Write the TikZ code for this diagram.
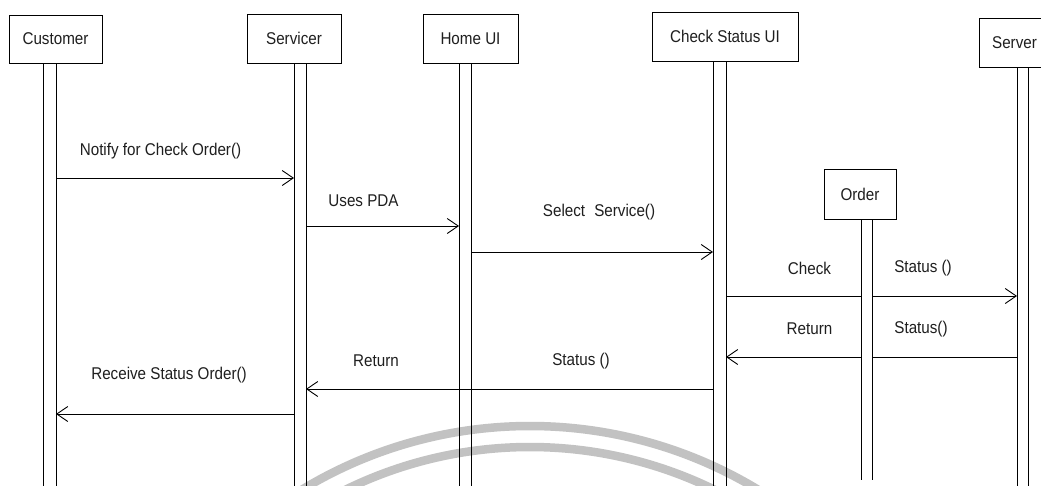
\documentclass[tikz,border=0pt]{standalone}
\usepackage{graphicx}
\usepackage{fontspec}
\setmainfont{Liberation Sans}
\usetikzlibrary{arrows.meta}
\newcommand{\tallt}[1]{\scalebox{1}[1.12]{#1}}
\begin{document}
\begin{tikzpicture}[x=1pt,y=-1pt,
  every node/.style={font=\fontsize{15.2}{18}\selectfont, text=black!88},
  objbox/.style={draw, line width=0.9pt, rectangle, inner sep=0pt, outer sep=0pt, fill=white},
  lifebar/.style={rectangle, inner sep=0pt, outer sep=0pt, minimum width=#1, anchor=north},
  barline/.style={line width=0.9pt},
  msg/.style={line width=0.9pt, -{Straight Barb[length=11pt,width=15pt,line width=0.9pt]}},
  plainmsg/.style={line width=0.9pt},
  lbl/.style={inner sep=0pt},
  wm/.style={draw=black!24, line width=8.5pt}
]
\useasboundingbox (0,0) rectangle (1041,485);
\fill[white] (0,0) rectangle (1041,485);
\begin{scope}
\clip (0,0) rectangle (1041,485);

% watermark arcs
\draw[wm] ([shift={(-128:440)}]530,866) arc[start angle=-128, end angle=-52, radius=440];
\draw[wm] ([shift={(-128:419)}]530,866) arc[start angle=-128, end angle=-52, radius=419];

% object boxes
\node[objbox, minimum width=93pt, minimum height=48pt] (cust) at (55.5,39) {\tallt{Customer}};
\node[objbox, minimum width=94pt, minimum height=49pt] (serv) at (294,38.5) {\tallt{Servicer}};
\node[objbox, minimum width=95pt, minimum height=49pt] (home) at (470.5,38.5) {\tallt{Home UI}};
\node[objbox, minimum width=146pt, minimum height=49pt] (chk) at (725,36.5) {\tallt{Check Status UI}};
\node[objbox, minimum width=71pt, minimum height=49pt] (srv) at (1014.5,42.5) {\tallt{Server}};
\node[objbox, minimum width=72pt, minimum height=50pt] (ord) at (860,194) {\tallt{Order}};

% lifeline bars
\node[lifebar=13pt, minimum height=440pt] (custbar) at (cust.south -| 49.5,0) {};
\node[lifebar=12pt, minimum height=440pt] (servbar) at (serv.south -| 300,0) {};
\node[lifebar=12pt, minimum height=440pt] (homebar) at (home.south -| 465,0) {};
\node[lifebar=13pt, minimum height=440pt] (chkbar) at (chk.south -| 719.5,0) {};
\node[lifebar=11pt, minimum height=440pt] (srvbar) at (srv.south -| 1022.5,0) {};
\node[lifebar=11pt, minimum height=261pt] (ordbar) at (ord.south -| 866.5,0) {};

\foreach \b in {custbar,servbar,homebar,chkbar,srvbar,ordbar}
  \draw[barline] (\b.north west) -- (\b.south west) (\b.north east) -- (\b.south east);

% message levels
\coordinate (y1) at (0,178);
\coordinate (y2) at (0,226);
\coordinate (y3) at (0,252);
\coordinate (y4) at (0,296);
\coordinate (y5) at (0,357);
\coordinate (y6) at (0,389);
\coordinate (y7) at (0,414);

% messages
\draw[msg] (custbar.east |- y1) -- (servbar.west |- y1);
\draw[msg] (servbar.east |- y2) -- (homebar.west |- y2);
\draw[msg] (homebar.east |- y3) -- (chkbar.west |- y3);
\draw[plainmsg] (chkbar.east |- y4) -- (ordbar.west |- y4);
\draw[msg] (ordbar.east |- y4) -- (srvbar.west |- y4);
\draw[plainmsg] (srvbar.west |- y5) -- (ordbar.east |- y5);
\draw[msg] (ordbar.west |- y5) -- (chkbar.east |- y5);
\draw[msg] (chkbar.west |- y6) -- (servbar.east |- y6);
\draw[msg] (servbar.west |- y7) -- (custbar.east |- y7);

% labels
\node[lbl] (l1) at (160.5,151) {\tallt{Notify for Check Order()}};
\node[lbl] (l2) at (363.5,201) {\tallt{Uses PDA}};
\node[lbl] (l3) at (599,212) {\tallt{Select\hspace{0.6em}Service()}};
\node[lbl] (l4a) at (809.5,268) {\tallt{Check}};
\node[lbl] (l4b) at (923,268) {\tallt{Status ()}};
\node[lbl] (l5a) at (809.5,329) {\tallt{Return}};
\node[lbl] (l5b) at (921,329) {\tallt{Status()}};
\node[lbl] (l6a) at (376,361) {\tallt{Return}};
\node[lbl] (l6b) at (581,361) {\tallt{Status ()}};
\node[lbl] (l7) at (169,375) {\tallt{Receive Status Order()}};
\end{scope}
\end{tikzpicture}
\end{document}
